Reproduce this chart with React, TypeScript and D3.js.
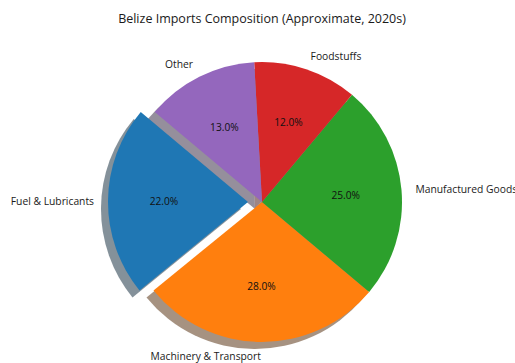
import React from "react";
import * as d3 from "d3";

const labels = ["Fuel & Lubricants", "Machinery & Transport", "Manufactured Goods", "Foodstuffs", "Other"];
const values = [22, 28, 25, 12, 13];
const colors = ["#1f77b4", "#ff7f0e", "#2ca02c", "#d62728", "#9467bd"];
const explode = [0.1, 0, 0, 0, 0];
const title = "Belize Imports Composition (Approximate, 2020s)";

const W = 515, H = 363;
const cx = 262, cy = 202, R = 140;
const startDeg = 140; // matplotlib start angle, counterclockwise
const shadowDx = -7, shadowDy = 7;
const FONT = "'Open Sans', 'Noto Sans', sans-serif";

function shade(c: string) {
  const rgb = d3.rgb(c);
  return d3.rgb(rgb.r * 0.3, rgb.g * 0.3, rgb.b * 0.3).formatHex();
}

export default function App() {
  const a0 = ((90 - startDeg) * Math.PI) / 180;
  const pie = d3.pie<number>().sort(null).value((d) => d).startAngle(a0).endAngle(a0 - 2 * Math.PI);
  const arcs = pie(values);
  const arc = d3.arc<d3.PieArcDatum<number>>().innerRadius(0).outerRadius(R);

  const items = arcs.map((a, i) => {
    const mid = (a.startAngle + a.endAngle) / 2;
    const ux = Math.sin(mid), uy = -Math.cos(mid);
    const ex = ux * explode[i] * R, ey = uy * explode[i] * R;
    const path = arc(a) || "";
    return { i, mid, ux, uy, ex, ey, path };
  });

  return (
    <svg width={W} height={H} style={{ position: "absolute", left: 0, top: 0, background: "#fff" }}>
      <text x={262} y={18} textAnchor="middle" dominantBaseline="central" fontFamily={FONT} fontSize={12.5} fill="#1a1a1a">
        {title}
      </text>
      <g transform={`translate(${cx},${cy})`}>
        {items.map((it) => (
          <path
            key={"s" + it.i}
            d={it.path}
            transform={`translate(${it.ex + shadowDx},${it.ey + shadowDy})`}
            fill={shade(colors[it.i])}
            fillOpacity={0.5}
          />
        ))}
        {items.map((it) => (
          <path key={"w" + it.i} d={it.path} transform={`translate(${it.ex},${it.ey})`} fill={colors[it.i]} />
        ))}
        {items.map((it) => (
          <text
            key={"p" + it.i}
            x={it.ex + it.ux * 0.6 * R}
            y={it.ey + it.uy * 0.6 * R}
            textAnchor="middle"
            dominantBaseline="central"
            fontFamily={FONT}
            fontSize={10.2}
            fill="#111"
          >
            {values[it.i].toFixed(1) + "%"}
          </text>
        ))}
        {items.map((it) => (
          <text
            key={"l" + it.i}
            x={it.ex + it.ux * 1.1 * R}
            y={it.ey + it.uy * 1.1 * R}
            textAnchor={it.ux > 0 ? "start" : "end"}
            dominantBaseline="central"
            fontFamily={FONT}
            fontSize={10.3}
            fill="#1a1a1a"
          >
            {labels[it.i]}
          </text>
        ))}
      </g>
    </svg>
  );
}
